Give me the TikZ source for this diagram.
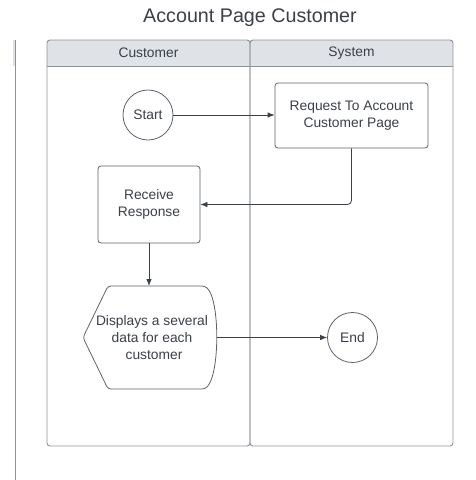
\documentclass[tikz,border=0pt]{standalone}
\usepackage{fontspec}
\setmainfont{Liberation Sans}
\usetikzlibrary{arrows.meta}
\definecolor{ink}{HTML}{3A3F48}
\definecolor{edge}{HTML}{5C626B}
\definecolor{lanegrey}{HTML}{8E939A}
\definecolor{headfill}{HTML}{DFE2E7}
\tikzset{
  lane/.style={draw=lanegrey, line width=0.9pt, rounded corners=3pt},
  lanehead/.style={fill=headfill, draw=lanegrey, line width=0.9pt},
  headtext/.style={text=ink, font=\fontsize{13.8}{17}\selectfont},
  bodytext/.style={text=ink, font=\fontsize{13.8}{17}\selectfont, align=center},
  procbox/.style={bodytext, draw=edge, line width=0.8pt, rounded corners=3pt, inner sep=0pt},
  terminal/.style={bodytext, draw=edge, line width=0.8pt, circle, minimum size=50pt, inner sep=0pt},
  flow/.style={draw=ink, line width=0.8pt, -{Latex[length=7pt,width=5.5pt]}},
}
\begin{document}
\begin{tikzpicture}[x=1pt,y=-1pt]
\useasboundingbox (0,0) rectangle (475,480);

% title
\node[text=ink, font=\fontsize{19.7}{23}\selectfont] (title) at (250,18) {Account Page Customer};

% partly visible lane on the far left
\fill[headfill] (12.5,40) rectangle (15.5,66);
\draw[lanegrey, line width=0.9pt] (15,40) -- (15,480);

% lanes
\begin{scope}
  \clip[rounded corners=3pt] (47,40) rectangle (250,446);
  \fill[headfill] (47,40) rectangle (250,66);
\end{scope}
\begin{scope}
  \clip[rounded corners=3pt] (250,40) rectangle (453,446);
  \fill[headfill] (250,40) rectangle (453,66);
\end{scope}
\draw[lanegrey, line width=0.9pt] (47,66) -- (453,66);
\draw[lane] (47,40) rectangle (250,446);
\draw[lane] (250,40) rectangle (453,446);
\node[headtext] (hcust) at (148.5,53) {Customer};
\node[headtext] (hsys) at (351.5,53) {System};

% flow shapes
\node[terminal] (start) at (148,115) {Start};
\node[procbox, minimum width=153pt, minimum height=65pt] (req) at (351.5,115.5) {Request To Account\\Customer Page};
\node[procbox, minimum width=102pt, minimum height=77pt] (recv) at (149,204.5) {Receive\\Response};

% display shape: pointed left side, curved right side
\draw[edge, line width=0.8pt, rounded corners=3pt]
  (108,286) -- (205,286)
  .. controls (220,300) and (220,374) .. (205,389)
  -- (108,389) -- (83,337.5) -- cycle;
\node[bodytext, minimum width=133pt, minimum height=103pt, inner sep=0pt] (disp) at (152,337.5)
  {Displays a several\\data for each\\\hspace*{4pt}customer};
\coordinate (dispout) at (216.5,337.5);

\node[terminal] (end) at (352.5,337.5) {End};

% connectors
\draw[flow] (start) -- (req.west |- start);
\draw[flow, rounded corners=4pt] (req.south) |- (recv.east);
\draw[flow] (recv.south) -- (recv.south |- 0,286);
\draw[flow] (dispout) -- (end.west);
\end{tikzpicture}
\end{document}
